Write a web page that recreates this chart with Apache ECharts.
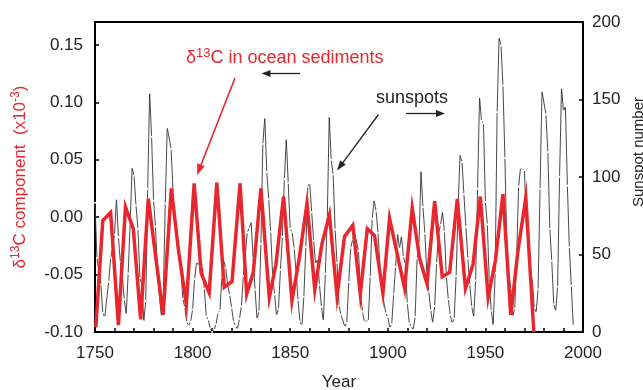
<!DOCTYPE html>
<html>
<head>
<meta charset="utf-8">
<script src="https://cdn.jsdelivr.net/npm/echarts@6/dist/echarts.min.js"></script>
<style>
html,body{margin:0;padding:0;background:#fff;}
#chart{width:643px;height:390px;}
</style>
</head>
<body>
<div id="chart"></div>
<script>
// ---- Data ----
const sunspotYears = [];
for (let y = 1750; y <= 1995; y++) sunspotYears.push(y);
const sunspotValues = [
 83.4,47.7,47.8,30.7,12.2,9.6,10.2,32.4,47.6,54.0,
 62.9,85.9,61.2,45.1,36.4,20.9,11.4,37.8,69.8,106.1,
 100.8,81.6,66.5,34.8,30.6,7.0,19.8,92.5,154.4,125.9,
 84.8,68.1,38.5,22.8,10.2,24.1,82.9,132.0,130.9,118.1,
 89.9,66.6,60.0,46.9,41.0,21.3,16.0,6.4,4.1,6.8,
 14.5,34.0,45.0,43.1,47.5,42.2,28.1,10.1,8.1,2.5,
 0.0,1.4,5.0,12.2,13.9,35.4,45.8,41.1,30.1,23.9,
 15.6,6.6,4.0,1.8,8.5,16.6,36.3,49.6,64.2,67.0,
 70.9,47.8,27.5,8.5,13.2,56.9,121.5,138.3,103.2,85.7,
 64.6,36.7,24.2,10.7,15.0,40.1,61.5,98.5,124.7,96.3,
 66.6,64.5,54.1,39.0,20.6,6.7,4.3,22.7,54.8,93.8,
 95.8,77.2,59.1,44.0,47.0,30.5,16.3,7.3,37.6,74.0,
 139.0,111.2,101.6,66.2,44.7,17.0,11.3,12.4,3.4,6.0,
 32.3,54.3,59.7,63.7,63.5,52.2,25.4,13.1,6.8,6.3,
 7.1,35.6,73.0,85.1,78.0,64.0,41.8,26.2,26.7,12.1,
 9.5,2.7,5.0,24.4,42.0,63.5,53.8,62.0,48.5,43.9,
 18.6,5.7,3.6,1.4,9.6,47.4,57.1,103.9,80.6,63.6,
 37.6,26.1,14.2,5.8,16.7,44.3,63.9,69.0,77.8,64.9,
 35.7,21.2,11.1,5.7,8.7,36.1,79.7,114.4,109.6,88.8,
 67.8,47.5,30.6,16.3,9.6,33.2,92.6,151.6,136.3,134.7,
 83.9,69.4,31.5,13.9,4.4,38.0,141.7,190.2,184.8,159.0,
 112.3,53.9,37.6,27.9,10.2,15.1,47.0,93.8,105.9,105.5,
 104.5,66.6,68.9,38.0,34.5,15.5,12.6,27.5,92.5,155.4,
 154.6,140.4,115.9,66.6,45.9,17.9,13.4,29.4,100.2,157.6,
 142.6,145.7,94.3,54.6,29.9,4.0
];

const d13cYears = [
 1750.4,1754.0,1758.0,1762.0,1765.6,1769.6,1773.4,1777.3,1784.9,1789.1,
 1792.7,1796.8,1800.8,1804.4,1808.5,1812.4,1816.2,1820.2,1824.3,1827.7,
 1831.1,1835.0,1839.3,1842.7,1846.6,1850.9,1854.7,1858.6,1862.6,1866.3,
 1870.1,1874.0,1877.8,1882.1,1885.9,1889.5,1893.2,1897.5,1900.9,1908.6,
 1912.5,1916.3,1920.1,1924.0,1927.9,1931.7,1935.6,1939.8,1943.7,1947.4,
 1951.4,1955.1,1959.0,1963.0,1966.7,1970.7,1974.8
];
const d13cValues = [
 -0.096,-0.003,0.004,-0.094,0.009,-0.010,-0.089,0.016,-0.085,0.025,
 -0.028,-0.076,0.0295,-0.049,-0.066,0.030,-0.061,-0.056,0.0295,-0.067,
 -0.048,0.025,-0.070,-0.041,0.018,-0.073,-0.035,0.012,-0.063,-0.023,
 0.002,-0.069,-0.017,-0.007,-0.067,-0.010,-0.016,-0.066,-0.001,-0.062,
 0.008,-0.036,-0.058,0.014,-0.052,-0.048,0.016,-0.062,-0.041,0.018,
 -0.070,-0.038,0.020,-0.085,-0.029,0.017,-0.100
];

const xTickLabels = [1750, 1800, 1850, 1900, 1950, 2000];

// ---- Styles ----
const RED = '#e8262d';
const FONT = 'Liberation Sans, Arial, Helvetica, sans-serif';

function arrow(x1, y1, x2, y2, color, w, hl, hw) {
  const dx = x2 - x1, dy = y2 - y1;
  const L = Math.sqrt(dx * dx + dy * dy);
  const ux = dx / L, uy = dy / L;
  const bx = x2 - ux * hl, by = y2 - uy * hl;
  const px = -uy, py = ux;
  return [
    { type: 'line', shape: { x1: x1, y1: y1, x2: bx + ux * 1, y2: by + uy * 1 },
      style: { stroke: color, lineWidth: w }, z: 100 },
    { type: 'polygon', shape: { points: [[x2, y2], [bx + px * hw / 2, by + py * hw / 2], [bx - px * hw / 2, by - py * hw / 2]] },
      style: { fill: color }, z: 100 }
  ];
}

const chart = echarts.init(document.getElementById('chart'), null, { renderer: 'canvas' });

const option = {
  backgroundColor: '#fff',
  animation: false,
  textStyle: { fontFamily: FONT },
  grid: {
    left: 95, right: 60, top: 22, bottom: 58,
    show: true, borderColor: '#000', borderWidth: 2, backgroundColor: 'transparent',
    containLabel: false, outerBoundsMode: 'none'
  },
  xAxis: {
    type: 'value', min: 1750, max: 2000, interval: 10,
    name: 'Year', nameLocation: 'middle', nameGap: 42,
    nameTextStyle: { fontSize: 17, color: '#222', fontFamily: FONT },
    axisLine: { show: true, onZero: false, lineStyle: { color: '#000', width: 2 } },
    axisTick: { show: true, inside: true, length: 4, lineStyle: { color: '#000', width: 1.5 } },
    axisLabel: {
      margin: 13, fontSize: 17, color: '#222', fontFamily: FONT,
      formatter: v => (xTickLabels.indexOf(Math.round(v)) >= 0 ? String(Math.round(v)) : '')
    },
    splitLine: { show: false }
  },
  yAxis: [
    {
      type: 'value', min: -0.1, max: 0.17, interval: 0.05, position: 'left',
      name: '{a|δ}{s|13}{a|C component  (x10}{s|-3}{a|)}',
      nameLocation: 'middle', nameGap: 65,
      nameTextStyle: {
        color: RED, fontFamily: FONT, fontSize: 17,
        rich: {
          a: { color: RED, fontSize: 17, fontFamily: FONT },
          s: { color: RED, fontSize: 12, fontFamily: FONT, verticalAlign: 'top', lineHeight: 20 }
        }
      },
      axisLine: { show: true, onZero: false, lineStyle: { color: '#000', width: 2 } },
      axisTick: { show: true, inside: true, length: 4, lineStyle: { color: '#000', width: 1.5 } },
      axisLabel: {
        margin: 12, fontSize: 17, color: '#222', fontFamily: FONT, showMaxLabel: false,
        formatter: v => (Math.abs(v) < 1e-9 ? '0.00' : v.toFixed(2))
      },
      splitLine: { show: false }
    },
    {
      type: 'value', min: 0, max: 200, interval: 50, position: 'right',
      name: 'Sunspot number', nameLocation: 'middle', nameGap: 45,
      nameTextStyle: { fontSize: 15, color: '#222', fontFamily: FONT, padding: [0, 0, 0, 50] },
      axisLine: { show: true, onZero: false, lineStyle: { color: '#000', width: 2 } },
      axisTick: { show: true, inside: true, length: 4, lineStyle: { color: '#000', width: 1.5 } },
      axisLabel: { margin: 9, fontSize: 17, color: '#222', fontFamily: FONT },
      splitLine: { show: false }
    }
  ],
  series: [
    {
      name: 'sunspots', type: 'line', yAxisIndex: 1,
      data: sunspotYears.map((y, i) => [y, sunspotValues[i]]),
      showSymbol: true, symbol: 'circle', symbolSize: 2,
      itemStyle: { color: '#fff', borderWidth: 0 },
      lineStyle: { color: '#333', width: 0.9 },
      z: 2, silent: true, clip: true
    },
    {
      name: 'd13C', type: 'line', yAxisIndex: 0,
      data: d13cYears.map((y, i) => [y, d13cValues[i]]),
      showSymbol: false,
      lineStyle: { color: RED, width: 3.5, join: 'miter' },
      z: 3, silent: true, clip: true
    }
  ],
  graphic: [
    {
      type: 'text', left: 186, top: 47, z: 100,
      style: {
        text: '{a|δ}{s|13}{a|C in ocean sediments}',
        fontFamily: FONT,
        rich: {
          a: { fill: RED, fontSize: 18, fontFamily: FONT, lineHeight: 22 },
          s: { fill: RED, fontSize: 13, fontFamily: FONT, verticalAlign: 'top', lineHeight: 22 }
        }
      }
    },
    {
      type: 'text', left: 376, top: 89, z: 100,
      style: { text: 'sunspots', fill: '#222', fontSize: 18, fontFamily: FONT }
    }
  ].concat(
    arrow(235, 78, 197, 175, RED, 1.6, 11, 8),
    arrow(300, 73.5, 261.5, 73.5, '#222', 1.3, 9, 7),
    arrow(378.5, 114.5, 337, 170.5, '#222', 1.3, 10, 7),
    arrow(406, 113.5, 445, 113.5, '#222', 1.3, 9, 7)
  )
};

chart.setOption(option);
</script>
</body>
</html>
